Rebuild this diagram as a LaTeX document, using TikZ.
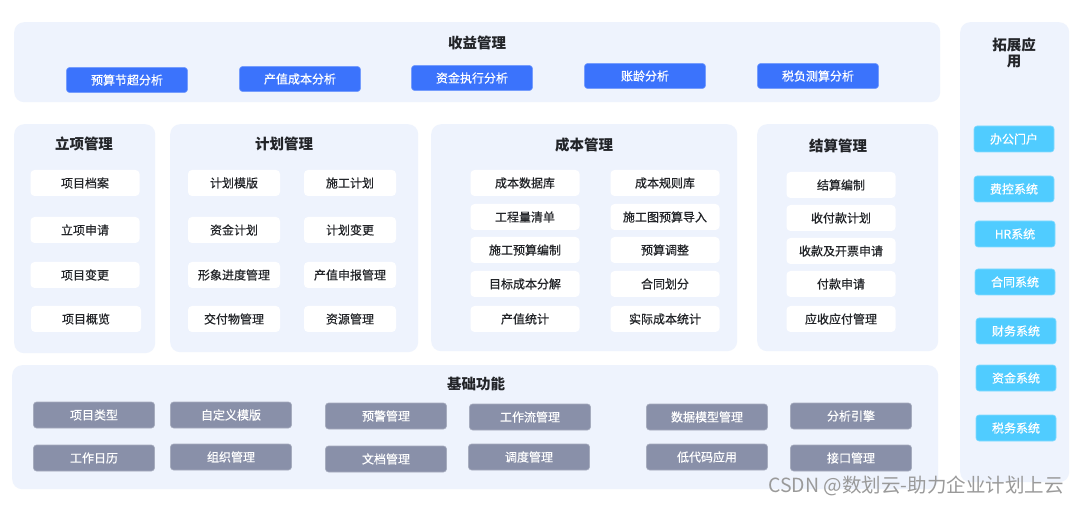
\documentclass[tikz,border=0pt]{standalone}
\usepackage{fontspec}
\setmainfont{Noto Sans CJK SC}
\newfontfamily\medfont{Noto Sans CJK SC}[FakeBold=0.6]
\definecolor{panelbg}{HTML}{EEF3FD}
\definecolor{bluebtn}{HTML}{3B73FC}
\definecolor{cyanbtn}{HTML}{50CCFF}
\definecolor{graybtn}{HTML}{8990A9}
\definecolor{titletxt}{HTML}{222428}
\definecolor{marktxt}{HTML}{9A9A9A}
\tikzset{
  panel/.style={fill=panelbg, rounded corners=10pt, anchor=north west, inner sep=0pt},
  ptitle/.style={text=titletxt, font=\fontsize{14.5}{16}\selectfont\bfseries, inner sep=0pt, align=center},
  itembox/.style={fill=white, rounded corners=4pt, minimum height=26pt, inner sep=0pt, text=titletxt, font=\medfont\fontsize{12}{14}\selectfont},
  bluebox/.style={fill=bluebtn, draw=bluebtn!70!white, line width=0.6pt, rounded corners=3pt, minimum width=121pt, minimum height=25pt, inner sep=0pt, text=white, font=\medfont\fontsize{12}{14}\selectfont},
  cyanbox/.style={fill=cyanbtn, draw=cyanbtn!70!white, line width=0.6pt, rounded corners=3pt, minimum width=80pt, minimum height=26pt, inner sep=0pt, text=white, font=\medfont\fontsize{12}{14}\selectfont},
  graybox/.style={fill=graybtn, draw=graybtn!75!white, line width=0.6pt, rounded corners=3pt, minimum width=121pt, minimum height=26pt, inner sep=0pt, text=white, font=\medfont\fontsize{12}{14}\selectfont},
}
\begin{document}
\begin{tikzpicture}[x=1pt, y=-1pt]
\useasboundingbox (0,0) rectangle (1080,505);
\fill[white] (0,0) rectangle (1080,505);
% panels
\node[panel, minimum width=926pt, minimum height=80pt] (pshouyi) at (14,22) {};
\node[panel, minimum width=109pt, minimum height=460pt] (ptuozhan) at (960,22) {};
\node[panel, minimum width=141pt, minimum height=229pt] (plixiang) at (14,124) {};
\node[panel, minimum width=248pt, minimum height=228pt] (pjihua) at (170,124) {};
\node[panel, minimum width=306pt, minimum height=227pt] (pchengben) at (431,124) {};
\node[panel, minimum width=181pt, minimum height=227pt] (pjiesuan) at (757,124) {};
\node[panel, minimum width=926pt, minimum height=124pt] (pjichu) at (12,365) {};
% titles
\node[ptitle] (tshouyi) at (477,43) {收益管理};
\node[ptitle] (ttuozhan) at (1014,53) {拓展应\\用};
\node[ptitle] (tlixiang) at (84,144) {立项管理};
\node[ptitle] (tjihua) at (284,144) {计划管理};
\node[ptitle] (tchengben) at (584,145) {成本管理};
\node[ptitle] (tjiesuan) at (838,146) {结算管理};
\node[ptitle] (tjichu) at (476,384) {基础功能};
% 收益管理
\node[bluebox] (s1) at (127,80) {预算节超分析};
\node[bluebox] (s2) at (300,79) {产值成本分析};
\node[bluebox] (s3) at (472,78) {资金执行分析};
\node[bluebox] (s4) at (645,76) {账龄分析};
\node[bluebox] (s5) at (818,76) {税负测算分析};
% 拓展应用
\node[cyanbox] (e1) at (1014,139) {办公门户};
\node[cyanbox] (e2) at (1014,189) {费控系统};
\node[cyanbox] (e3) at (1015,234) {HR系统};
\node[cyanbox] (e4) at (1015,282) {合同系统};
\node[cyanbox] (e5) at (1016,331) {财务系统};
\node[cyanbox] (e6) at (1016,378) {资金系统};
\node[cyanbox] (e7) at (1016,428) {税务系统};
% 立项管理
\node[itembox, minimum width=109pt] (l1) at (85,183) {项目档案};
\node[itembox, minimum width=109pt] (l2) at (85,230) {立项申请};
\node[itembox, minimum width=109pt] (l3) at (85,275) {项目变更};
\node[itembox, minimum width=110pt] (l4) at (86,319) {项目概览};
% 计划管理
\node[itembox, minimum width=92pt] (j1) at (234,183) {计划模版};
\node[itembox, minimum width=92pt] (j2) at (350,183) {施工计划};
\node[itembox, minimum width=92pt] (j3) at (234,230) {资金计划};
\node[itembox, minimum width=92pt] (j4) at (350,230) {计划变更};
\node[itembox, minimum width=92pt] (j5) at (234,275) {形象进度管理};
\node[itembox, minimum width=92pt] (j6) at (350,275) {产值申报管理};
\node[itembox, minimum width=92pt] (j7) at (234,319) {交付物管理};
\node[itembox, minimum width=92pt] (j8) at (350,319) {资源管理};
% 成本管理
\node[itembox, minimum width=109pt] (c1) at (525,183) {成本数据库};
\node[itembox, minimum width=109pt] (c2) at (665,183) {成本规则库};
\node[itembox, minimum width=109pt] (c3) at (525,217) {工程量清单};
\node[itembox, minimum width=109pt] (c4) at (665,217) {施工图预算导入};
\node[itembox, minimum width=109pt] (c5) at (525,250) {施工预算编制};
\node[itembox, minimum width=109pt] (c6) at (665,250) {预算调整};
\node[itembox, minimum width=109pt] (c7) at (525,284) {目标成本分解};
\node[itembox, minimum width=109pt] (c8) at (665,284) {合同划分};
\node[itembox, minimum width=109pt] (c9) at (525,319) {产值统计};
\node[itembox, minimum width=109pt] (c10) at (665,319) {实际成本统计};
% 结算管理
\node[itembox, minimum width=109pt] (k1) at (841,185) {结算编制};
\node[itembox, minimum width=109pt] (k2) at (841,218) {收付款计划};
\node[itembox, minimum width=109pt] (k3) at (841,251) {收款及开票申请};
\node[itembox, minimum width=109pt] (k4) at (841,284) {付款申请};
\node[itembox, minimum width=109pt] (k5) at (841,319) {应收应付管理};
% 基础功能
\node[graybox] (b1) at (94,415) {项目类型};
\node[graybox] (b2) at (94,458) {工作日历};
\node[graybox] (b3) at (231,415) {自定义模版};
\node[graybox] (b4) at (231,457) {组织管理};
\node[graybox] (b5) at (386,416) {预警管理};
\node[graybox] (b6) at (386,459) {文档管理};
\node[graybox] (b7) at (530,417) {工作流管理};
\node[graybox] (b8) at (529,457) {调度管理};
\node[graybox] (b9) at (707,417) {数据模型管理};
\node[graybox] (b10) at (707,457) {低代码应用};
\node[graybox] (b11) at (851,416) {分析引擎};
\node[graybox] (b12) at (851,458) {接口管理};
% watermark
\node[text=marktxt, font=\fontsize{19.5}{21}\selectfont, inner sep=0pt] (wm) at (916,486) {CSDN @数划云-助力企业计划上云};
\end{tikzpicture}
\end{document}
